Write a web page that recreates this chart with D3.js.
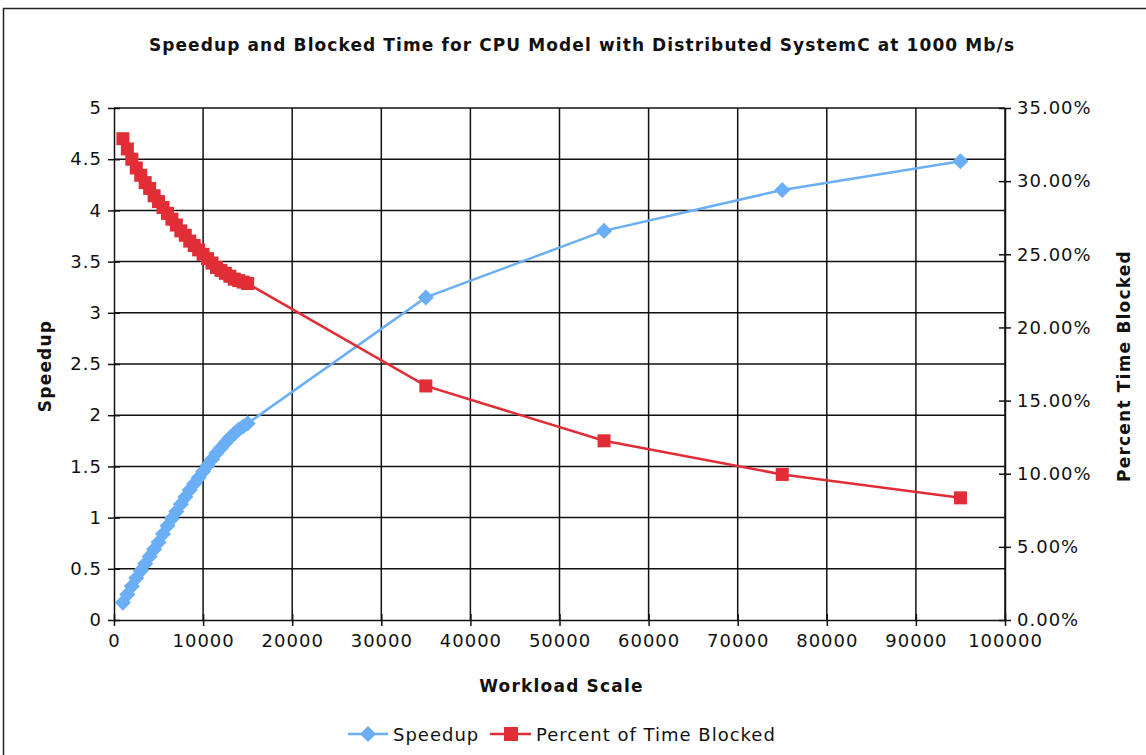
<!DOCTYPE html>
<html>
<head>
<meta charset="utf-8">
<script src="https://cdn.jsdelivr.net/npm/d3@7"></script>
<style>
  body { margin: 0; background: #fff; }
  svg text { font-family: "DejaVu Sans", Verdana, sans-serif; fill: #111; }
</style>
</head>
<body>
<div id="graphic1"></div>
<script>
// workload scale (x)
var workload = [1000, 1500, 2000, 2500, 3000, 3500, 4000, 4500, 5000, 5500,
    6000, 6500, 7000, 7500, 8000, 8500, 9000, 9500, 10000, 10500,
    11000, 11500, 12000, 12500, 13000, 13500, 14000, 14500, 15000,
    35000, 55000, 75000, 95000];

var speedup = [0.17, 0.25, 0.33, 0.41, 0.48, 0.55, 0.62, 0.69, 0.76, 0.84,
    0.92, 0.99, 1.06, 1.13, 1.20, 1.27, 1.33, 1.39, 1.45, 1.51,
    1.57, 1.63, 1.68, 1.73, 1.78, 1.82, 1.86, 1.89, 1.92,
    3.15, 3.80, 4.20, 4.48];

// percent of time blocked (%)
var blocked = [32.9, 32.2, 31.5, 30.9, 30.4, 29.9, 29.5, 29.0, 28.6, 28.2,
    27.8, 27.4, 27.0, 26.6, 26.3, 25.9, 25.6, 25.3, 25.0, 24.7,
    24.4, 24.1, 23.9, 23.7, 23.5, 23.3, 23.2, 23.1, 23.0,
    16.0, 12.25, 9.95, 8.35];

var xTicks = [0, 10000, 20000, 30000, 40000, 50000, 60000, 70000, 80000, 90000, 100000];
var leftTicks = [0, 0.5, 1, 1.5, 2, 2.5, 3, 3.5, 4, 4.5, 5];
var rightTicks = [0, 5, 10, 15, 20, 25, 30, 35];

var title = "Speedup and Blocked Time for CPU Model with Distributed SystemC at 1000 Mb/s";
var blue = "#6aaef6",
    red = "#e12d36";

function graph1() {
    var margin = { top: 108, right: 141, bottom: 135, left: 114 };
    var W = 1146, H = 755;
    var width = W - margin.left - margin.right,
        height = H - margin.top - margin.bottom;

    var root = d3.select("#graphic1").append("svg")
        .attr("width", W)
        .attr("height", H);

    // outer frame
    root.append("rect")
        .attr("x", 3.5).attr("y", 8.5)
        .attr("width", W + 10).attr("height", H + 10)
        .attr("fill", "none").attr("stroke", "#222").attr("stroke-width", 1.5);

    root.append("text")
        .attr("x", 582).attr("y", 51)
        .attr("text-anchor", "middle")
        .attr("font-weight", "bold")
        .attr("font-size", 17)
        .attr("letter-spacing", 1.1)
        .text(title);

    var svg = root.append("g")
        .attr("transform", "translate(" + margin.left + "," + margin.top + ")");

    var x = d3.scaleLinear().domain([0, 100000]).range([0, width]);
    var yL = d3.scaleLinear().domain([0, 5]).range([height, 0]);
    var yR = d3.scaleLinear().domain([0, 35]).range([height, 0]);

    // grid
    svg.append("g").selectAll("line").data(leftTicks.slice(1)).join("line")
        .attr("x1", 0).attr("x2", width)
        .attr("y1", d => yL(d)).attr("y2", d => yL(d))
        .attr("stroke", "#111").attr("stroke-width", 1.5);
    svg.append("g").selectAll("line").data(xTicks.slice(1)).join("line")
        .attr("x1", d => x(d)).attr("x2", d => x(d))
        .attr("y1", 0).attr("y2", height)
        .attr("stroke", "#111").attr("stroke-width", 1.5);

    // axes
    var xAxis = svg.append("g")
        .attr("transform", "translate(0," + height + ")")
        .call(d3.axisBottom(x).tickValues(xTicks).tickFormat(d3.format("d")).tickSize(6).tickSizeOuter(0));
    var leftAxis = svg.append("g")
        .call(d3.axisLeft(yL).tickValues(leftTicks).tickFormat(d => d).tickSize(6).tickSizeOuter(0));
    var rightAxis = svg.append("g")
        .attr("transform", "translate(" + width + ",0)")
        .call(d3.axisRight(yR).tickValues(rightTicks).tickFormat(d => d.toFixed(2) + "%").tickSize(6).tickSizeOuter(0));

    [xAxis, leftAxis, rightAxis].forEach(function (a) {
        a.selectAll("path").attr("stroke", "#111").attr("stroke-width", 1.5);
        a.selectAll("line").attr("stroke", "#111").attr("stroke-width", 1.5);
        a.selectAll("text").attr("font-size", 18).attr("letter-spacing", 1)
            .attr("font-family", "DejaVu Sans").attr("fill", "#111");
    });
    // ticks cross the axis lines
    xAxis.selectAll(".tick line").attr("y1", -6);
    leftAxis.selectAll(".tick line").attr("x1", 6);
    rightAxis.selectAll(".tick line").attr("x1", -6);
    xAxis.selectAll("text").attr("dy", "1.0em");
    leftAxis.selectAll("text").attr("x", -12);
    rightAxis.selectAll("text").attr("x", 12);

    // axis titles
    svg.append("text")
        .attr("x", width / 2 + 2).attr("y", height + 72)
        .attr("text-anchor", "middle").attr("font-weight", "bold").attr("font-size", 17)
        .attr("letter-spacing", 1.2)
        .text("Workload Scale");
    svg.append("text")
        .attr("transform", "translate(-63," + (height / 2 + 2) + ") rotate(-90)")
        .attr("text-anchor", "middle").attr("font-weight", "bold").attr("font-size", 17)
        .attr("letter-spacing", 1.2)
        .text("Speedup");
    svg.append("text")
        .attr("transform", "translate(" + (width + 125) + "," + (height / 2 + 2) + ") rotate(-90)")
        .attr("text-anchor", "middle").attr("font-weight", "bold").attr("font-size", 17)
        .attr("letter-spacing", 1.2)
        .text("Percent Time Blocked");

    var idx = d3.range(workload.length);

    // speedup series
    var lineS = d3.line().x(i => x(workload[i])).y(i => yL(speedup[i]));
    svg.append("path").datum(idx).attr("d", lineS)
        .attr("fill", "none").attr("stroke", blue).attr("stroke-width", 2.5);
    var diamond = d3.symbol().type(d3.symbolDiamond2).size(165);
    svg.append("g").selectAll("path").data(idx).join("path")
        .attr("d", diamond)
        .attr("transform", i => "translate(" + x(workload[i]) + "," + yL(speedup[i]) + ")")
        .attr("fill", blue);

    // blocked series
    var lineB = d3.line().x(i => x(workload[i])).y(i => yR(blocked[i]));
    svg.append("path").datum(idx).attr("d", lineB)
        .attr("fill", "none").attr("stroke", red).attr("stroke-width", 2.5);
    svg.append("g").selectAll("rect").data(idx).join("rect")
        .attr("x", i => x(workload[i]) - 6.5).attr("y", i => yR(blocked[i]) - 6.5)
        .attr("width", 13).attr("height", 13)
        .attr("fill", red);

    // legend
    var leg = root.append("g").attr("transform", "translate(0,734)");
    leg.append("line").attr("x1", 348).attr("x2", 388).attr("stroke", blue).attr("stroke-width", 2.5);
    leg.append("path").attr("d", diamond).attr("transform", "translate(368,0)").attr("fill", blue);
    leg.append("text").attr("x", 393).attr("y", 6.5).attr("font-size", 18).attr("letter-spacing", 1).text("Speedup");
    leg.append("line").attr("x1", 490).attr("x2", 531).attr("stroke", red).attr("stroke-width", 2.5);
    leg.append("rect").attr("x", 504).attr("y", -7).attr("width", 14).attr("height", 14).attr("fill", red);
    leg.append("text").attr("x", 536).attr("y", 6.5).attr("font-size", 18).attr("letter-spacing", 1).text("Percent of Time Blocked");
}

graph1();
</script>
</body>
</html>
